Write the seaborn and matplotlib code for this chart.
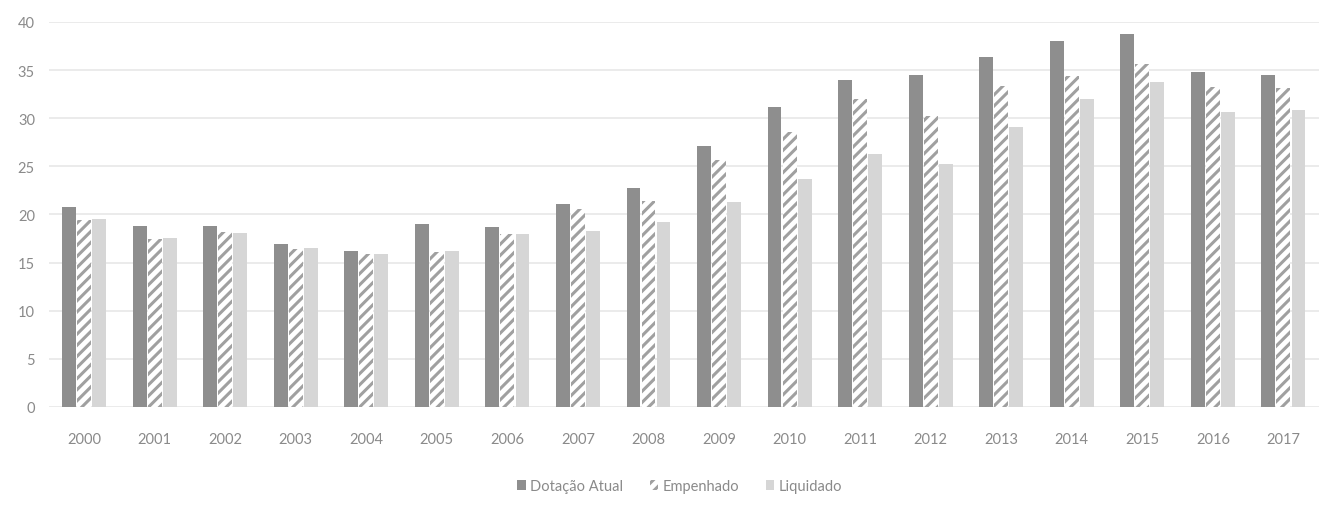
import matplotlib
matplotlib.use("Agg")
import matplotlib.pyplot as plt
import seaborn as sns
import pandas as pd
from matplotlib.patches import Patch

anos = [str(a) for a in range(2000, 2018)]
dotacao = [20.8, 18.8, 18.8, 16.9, 16.2, 19.0, 18.7, 21.1, 22.7, 27.1, 31.2, 34.0, 34.5, 36.4, 38.0, 38.8, 34.8, 34.5]
empenhado = [19.4, 17.5, 18.2, 16.4, 15.9, 16.1, 18.0, 20.6, 21.4, 25.7, 28.6, 32.0, 30.2, 33.3, 34.4, 35.6, 33.2, 33.1]
liquidado = [19.5, 17.6, 18.1, 16.5, 15.9, 16.2, 18.0, 18.3, 19.2, 21.3, 23.7, 26.3, 25.2, 29.1, 32.0, 33.8, 30.6, 30.9]
series = ["Dotação Atual", "Empenhado", "Liquidado"]
yticks = [0, 5, 10, 15, 20, 25, 30, 35, 40]

df = pd.DataFrame({
    "ano": anos * 3,
    "valor": dotacao + empenhado + liquidado,
    "serie": [series[0]] * len(anos) + [series[1]] * len(anos) + [series[2]] * len(anos),
})

sns.set_theme(style="white")
plt.rcParams["font.family"] = ["Lato", "DejaVu Sans"]
plt.rcParams["hatch.linewidth"] = 2.2

dark = "#8e8e8e"
light = "#d6d6d6"
hatch_col = "#a0a0a0"
text_col = "#8a8a8a"

fig = plt.figure(figsize=(13.2, 5.1), dpi=100)
ax = fig.add_axes([0.037, 0.2, 0.962, 0.755])

sns.barplot(data=df, x="ano", y="valor", hue="serie", hue_order=series,
            palette={series[0]: dark, series[1]: "white", series[2]: light},
            width=0.64, gap=0.08, ax=ax, legend=False, linewidth=0, saturation=1)

n = len(anos)
for i, bar in enumerate(ax.patches[:3 * n]):
    s = i // n
    if s == 1:
        bar.set_facecolor("white")
        bar.set_edgecolor(hatch_col)
        bar.set_hatch("///")
        bar.set_linewidth(0)

ax.set_ylim(0, 40)
ax.set_xlim(-0.5, n - 0.5)
ax.set_yticks(yticks)
ax.set_yticklabels([str(t) for t in yticks])
ax.yaxis.grid(True, color="#e8e8e8", linewidth=1.2)
ax.set_axisbelow(True)
for sp in ax.spines.values():
    sp.set_visible(False)
ax.set_xlabel("")
ax.set_ylabel("")
ax.tick_params(axis="both", length=0, colors=text_col, labelsize=10.5)
ax.tick_params(axis="x", pad=18)
ax.tick_params(axis="y", pad=10)

handles = [
    Patch(facecolor=dark, edgecolor="none"),
    Patch(facecolor="white", edgecolor=hatch_col, hatch="///", linewidth=0),
    Patch(facecolor=light, edgecolor="none"),
]
leg = fig.legend(handles, series, loc="center", bbox_to_anchor=(0.515, 0.045), ncol=3,
                 frameon=False, fontsize=10.5, handlelength=0.6, handleheight=0.6,
                 handletextpad=0.3, columnspacing=1.8)
for t in leg.get_texts():
    t.set_color(text_col)

fig.savefig("out.png", dpi=100)
